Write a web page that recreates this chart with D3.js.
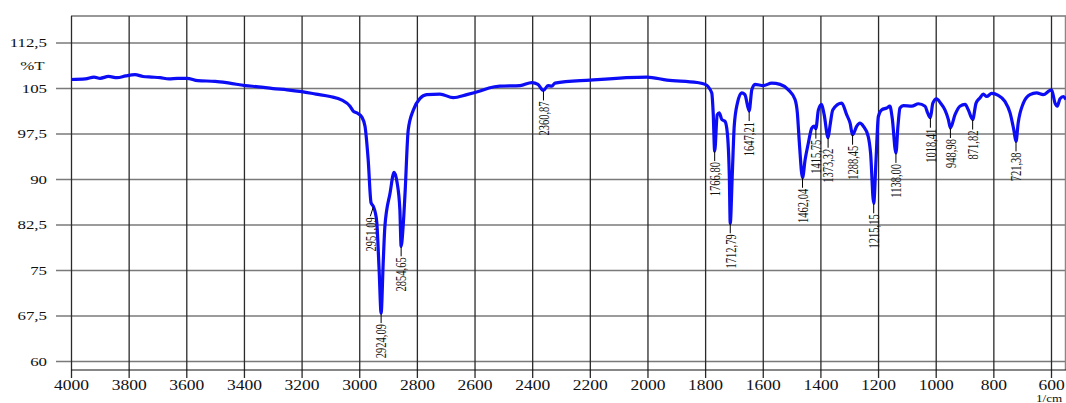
<!DOCTYPE html>
<html>
<head>
<meta charset="utf-8">
<script src="https://cdn.jsdelivr.net/npm/d3@7"></script>
<style>
  html, body { margin: 0; padding: 0; background: #fff; }
  svg { display: block; font-family: "Liberation Serif", "Times New Roman", serif; }
</style>
</head>
<body>
<svg id="chart" width="1066" height="403"></svg>
<script>
// IR spectrum: wavenumber (1/cm) and transmittance (%T)
const wavenumber = [
  4000, 3950, 3920, 3899, 3870, 3840, 3810, 3778, 3750, 3720, 3691, 3660, 3630, 3598,
  3560, 3500, 3450, 3396, 3350, 3299, 3250, 3199, 3150, 3101, 3060, 3032, 3021, 3005,
  2991, 2980, 2969, 2959, 2951.09, 2945, 2939, 2931, 2924.09, 2917, 2911, 2893, 2879,
  2869, 2859, 2854.65, 2848, 2841, 2830, 2812, 2789, 2766, 2720, 2674, 2627, 2581,
  2550, 2512, 2442, 2401, 2380, 2360.87, 2345, 2332, 2321, 2199, 2002, 1932, 1828,
  1800, 1777, 1772, 1766.80, 1758, 1751, 1742, 1731, 1723, 1716, 1712.79, 1706, 1699,
  1688, 1673, 1662, 1647.21, 1638, 1627, 1598, 1569, 1540, 1511, 1488, 1480, 1473,
  1462.04, 1453, 1442, 1430, 1422, 1415.75, 1407, 1396, 1387, 1373.32, 1367, 1357,
  1326, 1309, 1297, 1288.45, 1274, 1263, 1251, 1234, 1226, 1215.15, 1207, 1199, 1187,
  1170, 1159, 1151, 1138.00, 1131, 1124, 1112, 1083, 1060, 1037, 1028, 1018.41, 1010,
  997, 983, 968, 956, 948.98, 933, 916, 898, 887, 871.82, 860, 846, 835, 823, 806,
  783, 760, 742, 729, 721.38, 714, 696, 673, 650, 627, 604, 598, 586, 578, 569, 557, 548
];
const transmittance = [
  106.4, 106.5, 106.8, 106.6, 106.9, 106.7, 107.0, 107.2, 106.9, 106.8, 106.7, 106.5, 106.6, 106.6,
  106.2, 106.1, 105.8, 105.4, 105.2, 104.9, 104.7, 104.4, 104.0, 103.6, 103.0, 102.0, 101.2, 100.8,
  100.2, 98.7, 93.2, 86.1, 85.5, 84.6, 82.8, 75.0, 67.9, 76.0, 82.2, 87.7, 91.1,
  89.5, 84.9, 78.9, 82.0, 87.7, 98.1, 101.4, 103.3, 103.9, 104.0, 103.4, 103.9, 104.5,
  105.0, 105.3, 105.4, 105.9, 105.6, 104.6, 105.4, 105.3, 105.8, 106.3, 106.8, 106.3, 105.9,
  105.6, 104.2, 100.9, 94.6, 100.6, 100.9, 99.8, 99.5, 97.6, 90.4, 82.7, 90.4, 98.7,
  102.5, 104.2, 103.9, 101.2, 104.7, 105.6, 105.4, 105.8, 105.6, 104.7, 103.1, 100.9, 95.9,
  90.2, 93.2, 95.9, 98.4, 98.7, 98.3, 101.4, 102.3, 100.6, 96.8, 98.7, 101.4,
  102.5, 100.6, 99.2, 97.3, 98.7, 99.2, 98.7, 97.0, 94.3, 86.0, 93.2, 100.3, 101.4,
  101.7, 102.0, 100.1, 94.3, 98.7, 101.7, 102.1, 102.0, 102.4, 102.0, 100.9, 100.1, 102.5,
  103.2, 102.5, 101.4, 99.8, 98.4, 100.6, 102.0, 102.3, 101.4, 99.8, 102.5, 103.4, 104.0, 103.6, 104.1,
  103.8, 102.8, 100.9, 98.1, 96.2, 99.2, 102.5, 103.9, 104.2, 103.9, 104.6, 104.7, 102.5, 102.0, 103.2, 103.6, 103.1
];

// Annotated absorption bands
const peakWavenumbers = [
  2951.09, 2924.09, 2854.65, 2360.87, 1766.80, 1712.79, 1647.21, 1462.04, 1415.75,
  1373.32, 1288.45, 1215.15, 1138.00, 1018.41, 948.98, 871.82, 721.38
];

// Axis ticks
const xTicks = [4000, 3800, 3600, 3400, 3200, 3000, 2800, 2600, 2400, 2200, 2000, 1800, 1600, 1400, 1200, 1000, 800, 600];
const yTicks = [60, 67.5, 75, 82.5, 90, 97.5, 105, 112.5];
const yTitle = "%T";
const xUnit = "1/cm";

// ---------------------------------------------------------------
const svg = d3.select("#chart");
const W = 1066;
const frameTop = 16, frameBottom = 370;

const x = d3.scaleLinear().domain([4000, 600]).range([71, 1051]);
const y = d3.scaleLinear().domain([60, 112.5]).range([361, 42.5]);

const comma = v => String(v).replace(".", ",");
const fmt2 = d3.formatLocale({ decimal: ",", thousands: "", grouping: [3], currency: ["", ""] }).format(".2f");

// stretch text horizontally by factor k
function widen(sel, k) {
  sel.each(function () {
    const len = this.getComputedTextLength();
    d3.select(this).attr("textLength", len * k).attr("lengthAdjust", "spacingAndGlyphs");
  });
}

// horizontal grid + y tick labels
const gy = svg.append("g")
  .attr("transform", "translate(56,0)")
  .call(d3.axisLeft(y).tickValues(yTicks).tickFormat(comma)
    .tickSizeInner(-(W - 56)).tickSizeOuter(0).tickPadding(9));
gy.select(".domain").remove();
gy.selectAll(".tick line").attr("stroke", "#7a7a7a").attr("stroke-width", 1.6);
gy.selectAll(".tick text")
  .attr("font-family", "'Liberation Serif', 'Times New Roman', serif")
  .attr("font-size", 13.5).attr("fill", "#111");
widen(gy.selectAll(".tick text"), 1.25);

// vertical grid + x tick labels
const gx = svg.append("g")
  .attr("transform", `translate(0,${frameTop})`)
  .call(d3.axisBottom(x).tickValues(xTicks).tickFormat(d3.format("d"))
    .tickSizeInner(362).tickSizeOuter(0).tickPadding(2.5));
gx.select(".domain").remove();
gx.selectAll(".tick line").attr("stroke", "#2a2a2a").attr("stroke-width", 1.3);
gx.selectAll(".tick text")
  .attr("font-family", "'Liberation Serif', 'Times New Roman', serif")
  .attr("font-size", 14).attr("fill", "#111");
widen(gx.selectAll(".tick text"), 1.25);

// frame: top border, right border, bottom axis line
svg.append("line").attr("x1", x(4000)).attr("x2", W).attr("y1", frameTop).attr("y2", frameTop)
  .attr("stroke", "#333").attr("stroke-width", 1.2);
svg.append("line").attr("x1", x(550)).attr("x2", x(550)).attr("y1", frameTop).attr("y2", frameBottom)
  .attr("stroke", "#888").attr("stroke-width", 1.3);
svg.append("line").attr("x1", x(4000)).attr("x2", W).attr("y1", frameBottom).attr("y2", frameBottom)
  .attr("stroke", "#111").attr("stroke-width", 1.2);

// axis titles
const t1 = svg.append("text").attr("x", 32.5).attr("y", 70).attr("text-anchor", "middle")
  .attr("font-size", 13.5).attr("fill", "#111").text(yTitle);
widen(t1, 1.25);
const t2 = svg.append("text").attr("x", 1036).attr("y", 401.5)
  .attr("font-size", 10.5).attr("fill", "#111").text(xUnit);
widen(t2, 1.25);

// spectrum
const pts = wavenumber.map((w, i) => ({ w, t: transmittance[i] }));
svg.append("path")
  .datum(pts)
  .attr("fill", "none")
  .attr("stroke", "#0c0cf5")
  .attr("stroke-width", 3.2)
  .attr("stroke-linejoin", "round")
  .attr("d", d3.line().x(d => x(d.w)).y(d => y(d.t)).curve(d3.curveMonotoneX));

// peak markers and labels
const labelNudge = { 2951.09: -3 };
const tAt = w => transmittance[wavenumber.indexOf(w)];
const marks = svg.append("g");
peakWavenumbers.forEach(w => {
  const px = x(w), py = y(tAt(w));
  const dx = labelNudge[w] || 0;
  marks.append("line")
    .attr("x1", px).attr("y1", py + 0.5)
    .attr("x2", px + dx).attr("y2", py + 10)
    .attr("stroke", "#000").attr("stroke-width", 1);
  const lab = marks.append("text")
    .attr("transform", `translate(${px + dx},${py + 11}) rotate(-90)`)
    .attr("text-anchor", "end")
    .attr("dy", "0.35em")
    .attr("font-size", 15)
    .attr("fill", "#111")
    .text(fmt2(w));
  widen(lab, 0.7);
});
</script>
</body>
</html>
